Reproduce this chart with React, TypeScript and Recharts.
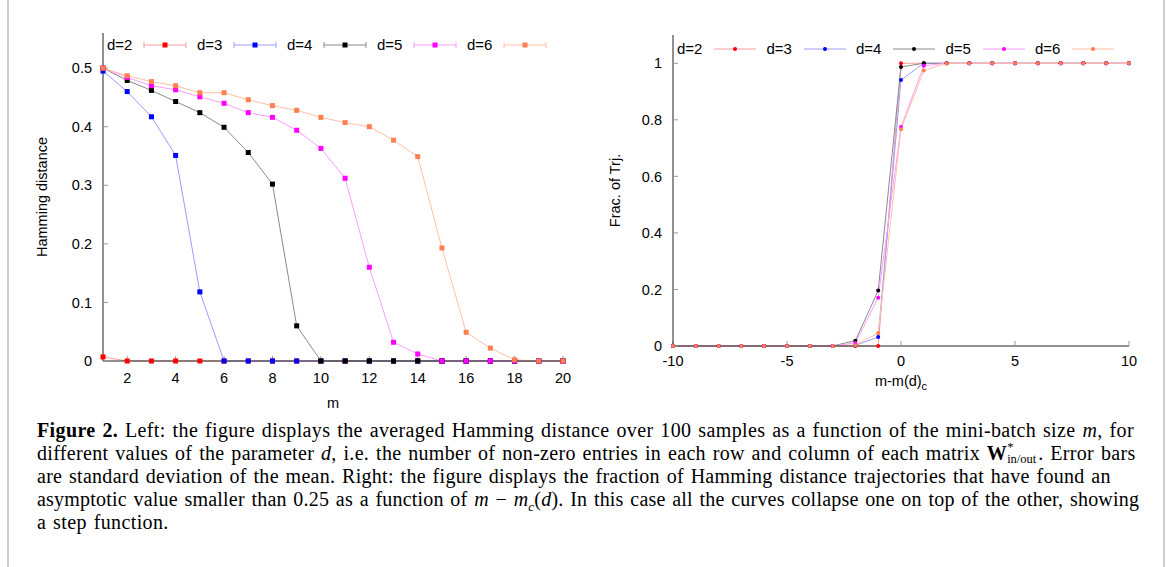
import React from "react";
import { LineChart, Line, XAxis, YAxis, Legend } from "recharts";

// left panel: Hamming distance vs mini-batch size m
const mValues = [1, 2, 3, 4, 5, 6, 7, 8, 9, 10, 11, 12, 13, 14, 15, 16, 17, 18, 19, 20];
const hamD2 = [0.007, 0, 0, 0, 0, 0, 0, 0, 0, 0, 0, 0, 0, 0, 0, 0, 0, 0, 0, 0];
const hamD3 = [0.495, 0.46, 0.417, 0.351, 0.118, 0, 0, 0, 0, 0, 0, 0, 0, 0, 0, 0, 0, 0, 0, 0];
const hamD4 = [0.5, 0.479, 0.462, 0.443, 0.424, 0.399, 0.356, 0.302, 0.06, 0, 0, 0, 0, 0, 0, 0, 0, 0, 0, 0];
const hamD5 = [0.5, 0.484, 0.47, 0.463, 0.451, 0.44, 0.424, 0.416, 0.394, 0.363, 0.312, 0.16, 0.032, 0.012, 0, 0, 0, 0, 0, 0];
const hamD6 = [0.5, 0.487, 0.477, 0.47, 0.458, 0.458, 0.446, 0.436, 0.428, 0.416, 0.407, 0.4, 0.377, 0.349, 0.193, 0.049, 0.022, 0.002, 0, 0];
const mTicks = [2, 4, 6, 8, 10, 12, 14, 16, 18, 20];
const hamTicks = [0, 0.1, 0.2, 0.3, 0.4, 0.5];

// right panel: fraction of trajectories vs m - m_c(d)
const shiftValues = [-10, -9, -8, -7, -6, -5, -4, -3, -2, -1, 0, 1, 2, 3, 4, 5, 6, 7, 8, 9, 10];
const fracD2 = [0, 0, 0, 0, 0, 0, 0, 0, 0, 0, 1, 1, 1, 1, 1, 1, 1, 1, 1, 1, 1];
const fracD3 = [0, 0, 0, 0, 0, 0, 0, 0, 0.002, 0.032, 0.941, 1, 1, 1, 1, 1, 1, 1, 1, 1, 1];
const fracD4 = [0, 0, 0, 0, 0, 0, 0, 0, 0.019, 0.196, 0.987, 1, 1, 1, 1, 1, 1, 1, 1, 1, 1];
const fracD5 = [0, 0, 0, 0, 0, 0, 0, 0, 0.011, 0.171, 0.775, 0.991, 1, 1, 1, 1, 1, 1, 1, 1, 1];
const fracD6 = [0, 0, 0, 0, 0, 0, 0, 0, 0.003, 0.046, 0.767, 0.974, 1, 1, 1, 1, 1, 1, 1, 1, 1];
const shiftTicks = [-10, -5, 0, 5, 10];
const fracTicks = [0, 0.2, 0.4, 0.6, 0.8, 1];

const seriesNames = ["d=2", "d=3", "d=4", "d=5", "d=6"];
const seriesKeys = ["d2", "d3", "d4", "d5", "d6"];
const markerColors = ["#ff0000", "#0000ff", "#000000", "#ff00ff", "#ff7f50"];
const lineColors = ["#ff9c9c", "#9c9cff", "#8a8a8a", "#ff9cff", "#ffc0a4"];

const hamSeries = [hamD2, hamD3, hamD4, hamD5, hamD6];
const fracSeries = [fracD2, fracD3, fracD4, fracD5, fracD6];

const leftRows = mValues.map((m, i) => {
  const row: any = { m };
  seriesKeys.forEach((k, j) => (row[k] = hamSeries[j][i]));
  return row;
});
const rightRows = shiftValues.map((x, i) => {
  const row: any = { x };
  seriesKeys.forEach((k, j) => (row[k] = fracSeries[j][i]));
  return row;
});

const sans = "'Liberation Sans', Arial, sans-serif";
const serif = "'Liberation Serif', 'Times New Roman', serif";
const tickStyle = { fill: "#000", fontSize: 14.5, fontFamily: sans };
const frame = { stroke: "#222", strokeWidth: 1 };
const tickLn = { stroke: "#999", strokeWidth: 1 };

const squareDot = (color: string) => (p: any) => (
  <rect key={`sq-${p.index}`} x={p.cx - 2.5} y={p.cy - 2.5} width={5} height={5} fill={color} />
);

const makeLegend = (errorCaps: boolean, pitch: number) => () => (
  <div style={{ display: "flex", fontFamily: sans, fontSize: 15, color: "#000", lineHeight: "18px" }}>
    {seriesNames.map((name, i) => (
      <div key={name} style={{ display: "flex", alignItems: "center", width: pitch }}>
        <span style={{ width: 36 }}>{name}</span>
        <svg width={44} height={10}>
          <line x1={1} y1={5} x2={43} y2={5} stroke={lineColors[i]} strokeWidth={1} />
          {errorCaps && <line x1={1} y1={2} x2={1} y2={8} stroke={lineColors[i]} />}
          {errorCaps && <line x1={43} y1={2} x2={43} y2={8} stroke={lineColors[i]} />}
          {errorCaps ? (
            <rect x={19.5} y={2.5} width={5} height={5} fill={markerColors[i]} />
          ) : (
            <circle cx={22} cy={5} r={2} fill={markerColors[i]} />
          )}
        </svg>
      </div>
    ))}
  </div>
);

const ShiftLabel = (props: any) => {
  const vb = props.viewBox;
  return (
    <text x={vb.x + vb.width / 2} y={vb.y + 40} textAnchor="middle" fontFamily={sans} fontSize={14.5} fill="#000">
      m-m(d)
      <tspan dy={4} fontSize={11}>c</tspan>
    </text>
  );
};

const HammingChart = () => (
  <LineChart width={590} height={420} data={leftRows} margin={{ top: 33, right: 27, bottom: 9, left: 30 }}>
    <XAxis dataKey="m" type="number" domain={[1, 20]} ticks={mTicks} tickSize={-5} tickMargin={17} height={50}
      axisLine={frame} tickLine={tickLn} tick={tickStyle}
      label={{ value: "m", position: "insideBottom", offset: 3, style: { fill: "#000", fontSize: 14.5, fontFamily: sans } }} />
    <XAxis xAxisId="top" orientation="top" type="number" domain={[1, 20]} ticks={mTicks} tickSize={-5} height={0}
      axisLine={frame} tickLine={tickLn} tick={false} allowDataOverflow />
    <YAxis type="number" domain={[0, 0.56]} ticks={hamTicks} tickSize={-5} tickMargin={16} width={73}
      axisLine={frame} tickLine={tickLn} tick={tickStyle}
      label={{ value: "Hamming distance", angle: -90, position: "insideLeft", offset: 11.5,
        style: { textAnchor: "middle", fill: "#000", fontSize: 14.5, fontFamily: sans } }} />
    <YAxis yAxisId="right" orientation="right" type="number" domain={[0, 0.56]} ticks={hamTicks} tickSize={-5} width={0}
      axisLine={frame} tickLine={tickLn} tick={false} allowDataOverflow />
    <Legend layout="horizontal" verticalAlign="middle" align="center" content={makeLegend(true, 90)}
      wrapperStyle={{ top: 36, left: 107, width: "auto", height: "auto" }} />
    {seriesKeys.map((k, i) => (
      <Line key={k} dataKey={k} name={seriesNames[i]} type="linear" stroke={lineColors[i]} strokeWidth={1}
        dot={squareDot(markerColors[i])} activeDot={false} isAnimationActive={false} />
    ))}
  </LineChart>
);

const FractionChart = () => (
  <LineChart width={577} height={420} data={rightRows} margin={{ top: 35, right: 38, bottom: 24, left: 15 }}>
    <XAxis dataKey="x" type="number" domain={[-10, 10]} ticks={shiftTicks} tickSize={-5} tickMargin={15} height={50}
      axisLine={frame} tickLine={tickLn} tick={tickStyle} label={<ShiftLabel />} />
    <XAxis xAxisId="top" orientation="top" type="number" domain={[-10, 10]} ticks={shiftTicks} tickSize={-5} height={0}
      axisLine={frame} tickLine={tickLn} tick={false} allowDataOverflow />
    <YAxis type="number" domain={[0, 1.1]} ticks={fracTicks} tickSize={-5} tickMargin={16} width={68}
      axisLine={frame} tickLine={tickLn} tick={tickStyle}
      label={{ value: "Frac. of Trj.", angle: -90, position: "insideLeft", offset: 10,
        style: { textAnchor: "middle", fill: "#000", fontSize: 14.5, fontFamily: sans } }} />
    <YAxis yAxisId="right" orientation="right" type="number" domain={[0, 1.1]} ticks={fracTicks} tickSize={-5} width={0}
      axisLine={frame} tickLine={tickLn} tick={false} allowDataOverflow />
    <Legend layout="horizontal" verticalAlign="middle" align="center" content={makeLegend(false, 89.5)}
      wrapperStyle={{ top: 40, left: 87, width: "auto", height: "auto" }} />
    {seriesKeys.map((k, i) => (
      <Line key={k} dataKey={k} name={seriesNames[i]} type="linear" stroke={lineColors[i]} strokeWidth={1}
        dot={{ r: 2, fill: markerColors[i], stroke: markerColors[i], strokeWidth: 0 }} activeDot={false}
        isAnimationActive={false} />
    ))}
  </LineChart>
);

const captionLine = (spacing: number) => ({ whiteSpace: "nowrap" as const, height: 23.2, letterSpacing: spacing });

export default function App() {
  return (
    <div style={{ position: "absolute", left: 0, top: 0, width: 1167, height: 567, background: "#fff", overflow: "hidden" }}>
      <div style={{ position: "absolute", left: 7, top: 0, width: 2, height: 567, background: "#cfcfcf" }} />
      <div style={{ position: "absolute", left: 1163, top: 0, width: 2, height: 567, background: "#cfcfcf" }} />
      <div style={{ position: "absolute", left: 0, top: 0 }}>
        <HammingChart />
      </div>
      <div style={{ position: "absolute", left: 590, top: 0 }}>
        <FractionChart />
      </div>
      <div style={{ position: "absolute", left: 37, top: 418.7, fontFamily: serif, fontSize: 20,
        wordSpacing: 1.5, lineHeight: "23.2px", color: "#000" }}>
        <div style={captionLine(0.37)}>
          <b>Figure 2.</b> Left: the figure displays the averaged Hamming distance over 100 samples as a function of the mini-batch size <i>m</i>, for
        </div>
        <div style={captionLine(0.32)}>
          different values of the parameter <i>d</i>, i.e. the number of non-zero entries in each row and column of each matrix <b>W</b>
          <span style={{ position: "relative", display: "inline-block", width: 31, height: 14, letterSpacing: 0 }}>
            <span style={{ position: "absolute", left: 0, top: -5, fontSize: 12.5, lineHeight: "12px" }}>*</span>
            <span style={{ position: "absolute", left: 0, top: 7, fontSize: 12.5, lineHeight: "12px" }}>in/out</span>
          </span>
          . Error bars
        </div>
        <div style={captionLine(0.28)}>
          are standard deviation of the mean. Right: the figure displays the fraction of Hamming distance trajectories that have found an
        </div>
        <div style={captionLine(0.2)}>
          asymptotic value smaller than 0.25 as a function of <i>m</i> − <i>m</i>
          <sub style={{ fontSize: 13 }}><i>c</i></sub>(<i>d</i>). In this case all the curves collapse one on top of the other, showing
        </div>
        <div style={captionLine(0.37)}>a step function.</div>
      </div>
    </div>
  );
}
